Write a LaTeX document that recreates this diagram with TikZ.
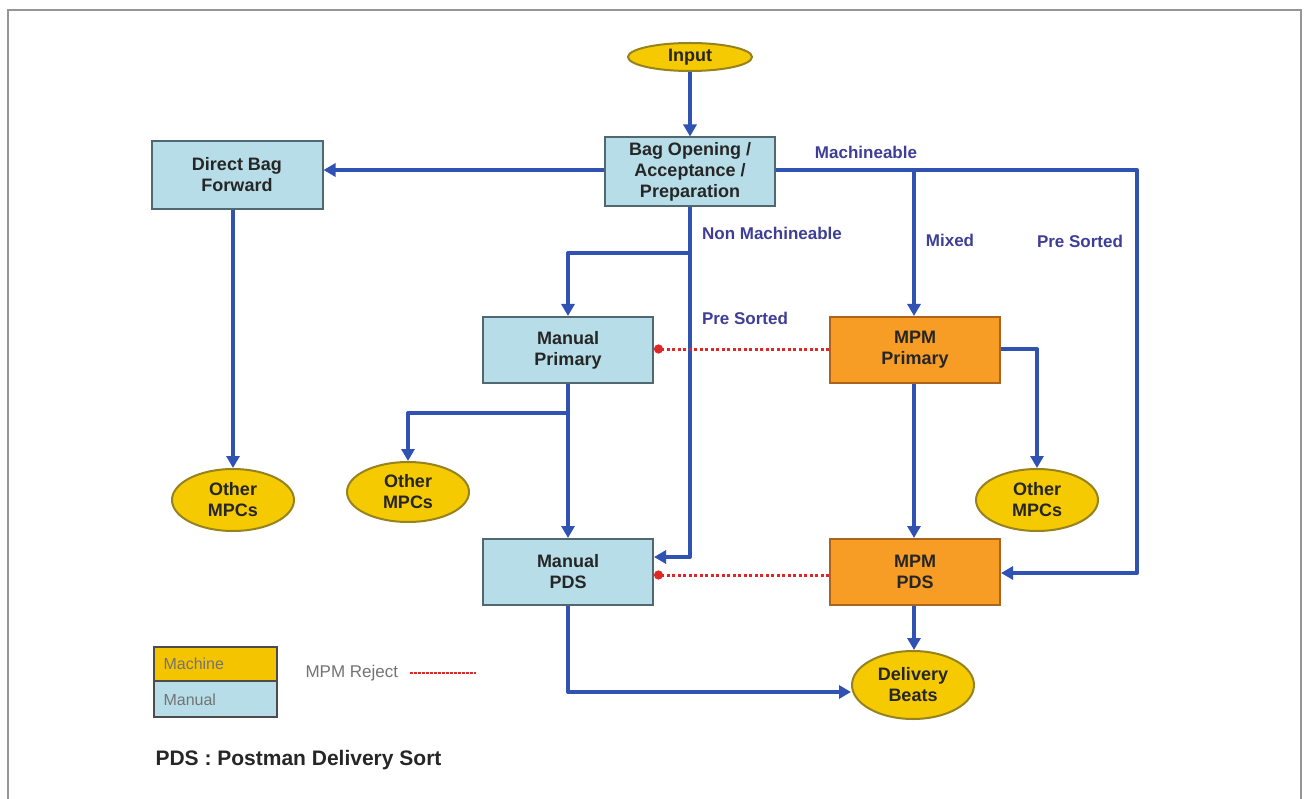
\documentclass[tikz,border=0pt]{standalone}
\usepackage{fontspec}
\setmainfont{Liberation Sans}
\usetikzlibrary{arrows.meta,shapes.geometric}
\definecolor{flowblue}{RGB}{48,82,178}
\definecolor{labelblue}{RGB}{62,62,150}
\definecolor{manfill}{RGB}{183,222,232}
\definecolor{manline}{RGB}{80,105,112}
\definecolor{machfill}{RGB}{247,156,36}
\definecolor{machline}{RGB}{170,100,30}
\definecolor{ellfill}{RGB}{245,202,0}
\definecolor{ellline}{RGB}{150,130,30}
\definecolor{legfill}{RGB}{245,196,0}
\definecolor{rejred}{RGB}{222,40,40}
\definecolor{framegray}{RGB}{150,150,150}
\tikzset{
  boxtext/.style={font=\bfseries\fontsize{18}{21}\selectfont, text=black!85, align=center},
  manbox/.style={boxtext, rectangle, draw=manline, line width=2pt, fill=manfill, minimum width=170pt, minimum height=66pt, inner sep=0pt},
  machbox/.style={boxtext, rectangle, draw=machline, line width=2pt, fill=machfill, minimum width=170pt, minimum height=66pt, inner sep=0pt},
  ellnode/.style={boxtext, ellipse, draw=ellline, line width=2pt, fill=ellfill, minimum width=122pt, minimum height=62pt, inner sep=0pt},
  flow/.style={draw=flowblue, line width=4pt, line join=round, -{Triangle[length=12pt,width=13pt]}},
  flowline/.style={draw=flowblue, line width=4pt},
  reject/.style={draw=rejred, line width=3pt, dash pattern=on 3pt off 2.5pt, -{Circle[length=9pt]}},
  lbl/.style={font=\bfseries\fontsize{17}{20}\selectfont, text=labelblue},
  legtext/.style={font=\fontsize{16}{19}\selectfont, text=black!55, anchor=west},
}
\begin{document}
\begin{tikzpicture}[x=1pt,y=-1pt]
\useasboundingbox (0,0) rectangle (1305,799);
\draw[framegray, line width=1.5pt] (8,799) -- (8,10) -- (1301,10) -- (1301,799);

% nodes
\node[ellnode, minimum width=124pt, minimum height=28pt] (input) at (690,57) {Input};
\node[manbox, minimum height=69pt] (bag) at (690,172) {Bag Opening /\\Acceptance /\\Preparation};
\node[manbox, minimum width=171pt, minimum height=68pt] (dbf) at (237,175) {Direct Bag\\Forward};
\node[manbox] (manp) at (568,350) {Manual\\Primary};
\node[machbox] (mpmp) at (915,350) {MPM\\Primary};
\node[manbox] (manpds) at (568,572) {Manual\\PDS};
\node[machbox] (mpmpds) at (915,572) {MPM\\PDS};
\node[ellnode] (oml) at (233,500) {Other\\MPCs};
\node[ellnode, minimum height=60pt] (omm) at (408,492) {Other\\MPCs};
\node[ellnode] (omr) at (1037,500) {Other\\MPCs};
\node[ellnode, minimum height=68pt] (db) at (913,685) {Delivery\\Beats};

% helper coordinates
\coordinate (mtop) at (1137,170);
\coordinate (mbot) at (1137,573);
\coordinate (mix) at (914,170);
\coordinate (nmtop) at (690,253);
\coordinate (nmbot) at (690,557);
\coordinate (mpb) at (568,413);
\coordinate (mpr) at (1037,349);
\coordinate (pdsb) at (568,692);

% connectors
\draw[flow] (input.south) -- (bag.north);
\draw[flow] (bag.west |- 0,170) -- (dbf.east |- 0,170);
\draw[flow] (oml.north |- dbf.south) -- (oml.north);
\draw[flow] (bag.east |- mtop) -- (mtop) -- (mbot) -- (mpmpds.east |- mbot);
\draw[flow] (mix) -- (mix |- mpmp.north);
\draw[flow] (bag.south) -- (nmbot) -- (manpds.east |- nmbot);
\draw[flow] (nmtop) -- (nmtop -| manp.north) -- (manp.north);
\draw[flow] (manp.south) -- (manpds.north);
\draw[flow] (mpb) -- (mpb -| omm.north) -- (omm.north);
\draw[flow] (mpmp.east |- mpr) -- (mpr) -- (omr.north);
\draw[flow] (mix |- mpmp.south) -- (mix |- mpmpds.north);
\draw[flow] (mix |- mpmpds.south) -- (mix |- db.north);
\draw[flow] (manpds.south) -- (pdsb) -- (db.west |- pdsb);
\draw[reject] (mpmp.west |- 0,349) -- (manp.east |- 0,349);
\draw[reject] (mpmpds.west |- 0,575) -- (manpds.east |- 0,575);

% labels
\node[lbl] (lmach) at (866,152) {Machineable};
\node[lbl] (lnon) at (772,233) {Non Machineable};
\node[lbl] (lmix) at (950,240) {Mixed};
\node[lbl] (lpre1) at (1080,241) {Pre Sorted};
\node[lbl] (lpre2) at (745,318) {Pre Sorted};

% legend
\draw[draw=black!70, line width=1.5pt, fill=legfill] (154,647) rectangle (277,681);
\draw[draw=black!70, line width=1.5pt, fill=manfill] (154,681) rectangle (277,717);
\node[legtext] (lgmach) at (160,664) {Machine};
\node[legtext] (lgman) at (160,700) {Manual};
\node[legtext, font=\fontsize{17}{20}\selectfont] (lgrej) at (302,673) {MPM Reject};
\coordinate (rejA) at (410,673);
\coordinate (rejB) at (476,673);
\draw[draw=rejred, line width=2pt, dash pattern=on 2.5pt off 1.5pt] (rejA) -- (rejB);
\node[font=\bfseries\fontsize{21}{24}\selectfont, anchor=west, text=black!85] (pds) at (152,760) {PDS : Postman Delivery Sort};
\end{tikzpicture}
\end{document}
